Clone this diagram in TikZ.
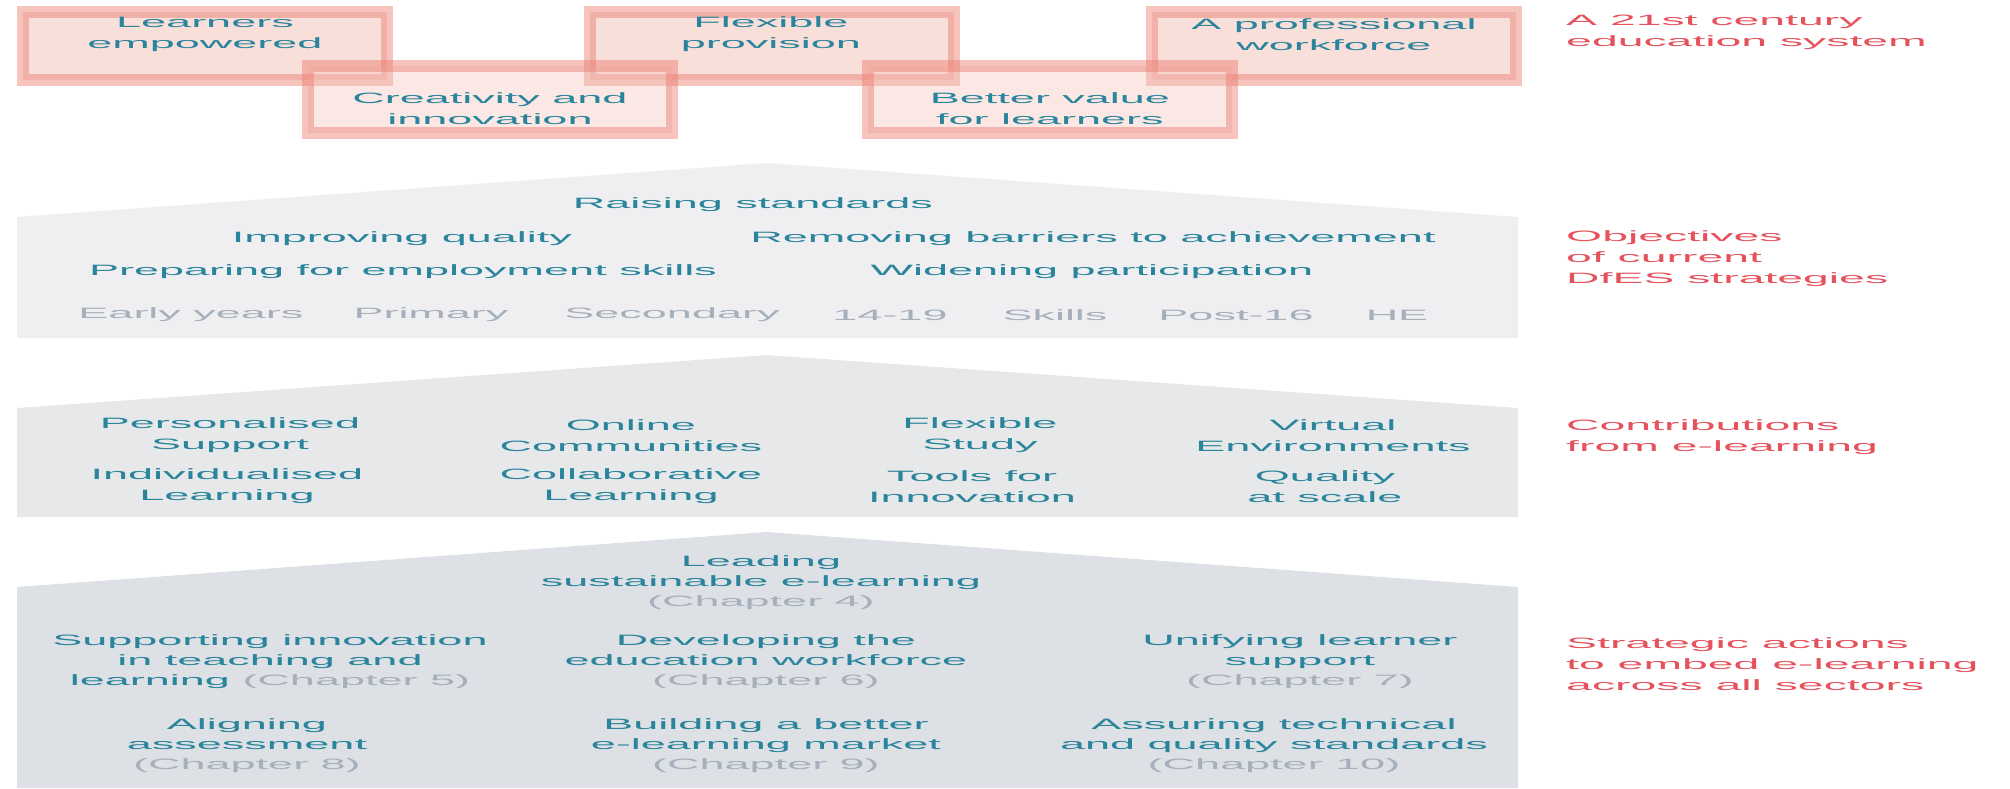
\documentclass[tikz,border=0pt]{standalone}
\usepackage{fontspec}
\setmainfont{Liberation Sans}
\definecolor{tealtxt}{RGB}{42,132,155}
\definecolor{greytxt}{RGB}{165,176,188}
\definecolor{redtxt}{RGB}{229,82,92}
\definecolor{boxedge}{RGB}{234,122,108}
\definecolor{boxfill}{RGB}{244,196,188}
\definecolor{panela}{RGB}{239,239,241}
\definecolor{panelb}{RGB}{231,232,234}
\definecolor{panelc}{RGB}{221,224,228}
\tikzset{
  txt/.style={font=\fontsize{7.5}{10.5}\selectfont, text=tealtxt, align=center, inner sep=0pt, xscale=3},
  stage/.style={txt, text=greytxt},
  action/.style={txt, font=\fontsize{7.5}{10}\selectfont},
  side/.style={txt, text=redtxt, align=left, anchor=west, xscale=1.03},
  goalbox/.style={draw=boxedge, draw opacity=0.45, fill=boxfill, fill opacity=0.55, line width=6pt},
  lowbox/.style={goalbox, fill opacity=0.4}
}
\newcommand{\chap}[1]{\textcolor{greytxt}{#1}}
\begin{document}
\begin{tikzpicture}[x=0.5pt,y=-0.5pt]
\useasboundingbox (0,0) rectangle (2010,788);

\draw[goalbox] (23,12) rectangle (387,80);
\draw[goalbox] (590,12) rectangle (954,80);
\draw[goalbox] (1152,12) rectangle (1516,80);
\draw[lowbox] (308,66) rectangle (672,133);
\draw[lowbox] (868,66) rectangle (1232,133);
\node[txt] (learners) at (205,34.5) {Learners\\empowered};
\node[txt] (flexprov) at (771,34.5) {Flexible\\provision};
\node[txt] (workforce) at (1334,34.5) {A professional\\workforce};
\node[txt] (creative) at (490,109) {Creativity and\\innovation};
\node[txt] (value) at (1050,109) {Better value\\for learners};

\fill[panela] (17,217) -- (767,163) -- (1518,217) -- (1518,338) -- (17,338) -- cycle;
\node[txt] (raise) at (753,205) {Raising standards};
\node[txt] (quality) at (402,239) {Improving quality};
\node[txt] (barriers) at (1093,239) {Removing barriers to achievement};
\node[txt] (employ) at (403,272) {Preparing for employment skills};
\node[txt] (widen) at (1092,272) {Widening participation};
\foreach \x/\s [count=\i] in {191/Early years,431/Primary,672/Secondary,890/14-19,1055/Skills,1236/Post-16,1397/HE}
  \node[stage] (stage\i) at (\x,315) {\s};

\fill[panelb] (17,408) -- (767,355) -- (1518,408) -- (1518,517) -- (17,517) -- cycle;
\node[txt] (personal) at (230,435.5) {Personalised\\Support};
\node[txt] (online) at (631,435.5) {Online\\Communities};
\node[txt] (study) at (980,435.5) {Flexible\\Study};
\node[txt] (virtual) at (1333,435.5) {Virtual\\Environments};
\node[txt] (individual) at (227,486.5) {Individualised\\Learning};
\node[txt] (collab) at (631,486.5) {Collaborative\\Learning};
\node[txt] (tools) at (972,486.5) {Tools for\\Innovation};
\node[txt] (scale) at (1325,486.5) {Quality\\at scale};

\fill[panelc] (17,587) -- (767,532) -- (1518,587) -- (1518,788) -- (17,788) -- cycle;
\node[action] (leading) at (761,583) {Leading\\sustainable e-learning\\\chap{(Chapter 4)}};
\node[action] (innov) at (270,662) {Supporting innovation\\in teaching and\\learning \chap{(Chapter 5)}};
\node[action] (develop) at (766,662) {Developing the\\education workforce\\\chap{(Chapter 6)}};
\node[action] (unify) at (1300,662) {Unifying learner\\support\\\chap{(Chapter 7)}};
\node[action] (assess) at (247,746) {Aligning\\assessment\\\chap{(Chapter 8)}};
\node[action] (market) at (766,746) {Building a better\\e-learning market\\\chap{(Chapter 9)}};
\node[action] (standards) at (1274,746) {Assuring technical\\and quality standards\\\chap{(Chapter 10)}};

\node[side] (system) at (1565,32) {A 21st century\\education system};
\node[side] (objectives) at (1565,259) {Objectives\\of current\\DfES strategies};
\node[side] (contrib) at (1565,437.5) {Contributions\\from e-learning};
\node[side] (strategic) at (1565,664) {Strategic actions\\to embed e-learning\\across all sectors};
\end{tikzpicture}
\end{document}
